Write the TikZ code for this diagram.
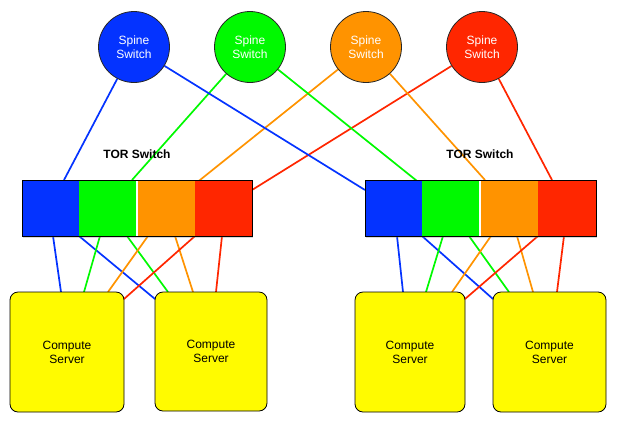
\documentclass[tikz,border=0pt]{standalone}
\usepackage{fontspec}
\setmainfont{Liberation Sans}
\usetikzlibrary{backgrounds,shadows}
\definecolor{cblue}{HTML}{0433FF}
\definecolor{cgreen}{HTML}{00F900}
\definecolor{corange}{HTML}{FF9300}
\definecolor{cred}{HTML}{FF2600}
\definecolor{cyellow}{HTML}{FFFB00}
\begin{document}
\begin{tikzpicture}[x=1pt,y=-1pt,
  spine/.style={circle,minimum size=71pt,inner sep=0pt,draw=black!85,line width=0.8pt,text=white,align=center,font=\fontsize{12}{14}\selectfont},
  seg/.style={rectangle,anchor=north west,minimum height=56pt,inner sep=0pt,outer sep=0pt,draw=none},
  torbox/.style={rectangle,minimum width=230pt,minimum height=56pt,inner sep=0pt,outer sep=0pt,fill=white,drop shadow={opacity=0.3,shadow xshift=1pt,shadow yshift=-1.5pt}},
  server/.style={rectangle,rounded corners=8pt,fill=cyellow,draw=black,line width=0.8pt,align=center,font=\fontsize{12}{14}\selectfont,inner sep=0pt,outer sep=0pt},
  torlabel/.style={font=\bfseries\fontsize{12}{14}\selectfont},
  link/.style={line width=1.7pt}]
\useasboundingbox (0,0) rectangle (618,424);

% spine switches
\node[spine,fill=cblue] (sp1) at (134,47) {Spine\\Switch};
\node[spine,fill=cgreen] (sp2) at (250,47) {Spine\\Switch};
\node[spine,fill=corange] (sp3) at (366,47) {Spine\\Switch};
\node[spine,fill=cred] (sp4) at (482,47) {Spine\\Switch};

% TOR labels
\node[torlabel] (ltl) at (137,154) {TOR Switch};
\node[torlabel] (rtl) at (480,154) {TOR Switch};

% left TOR
\node[torbox] (ltor) at (137,208) {};
\node[seg,fill=cblue,minimum width=57pt] (L1) at (22,180) {};
\node[seg,fill=cgreen,minimum width=57pt] (L2) at (79,180) {};
\node[seg,fill=corange,minimum width=57pt] (L3) at (138,180) {};
\node[seg,fill=cred,minimum width=57pt] (L4) at (195,180) {};
\draw[line width=0.8pt] (ltor.north west) rectangle (ltor.south east);

% right TOR
\node[torbox,minimum width=231pt] (rtor) at (480.5,208) {};
\node[seg,fill=cblue,minimum width=57pt] (R1) at (365,180) {};
\node[seg,fill=cgreen,minimum width=57pt] (R2) at (422,180) {};
\node[seg,fill=corange,minimum width=57pt] (R3) at (481,180) {};
\node[seg,fill=cred,minimum width=58pt] (R4) at (538,180) {};
\draw[line width=0.8pt] (rtor.north west) rectangle (rtor.south east);

% servers
\node[server,minimum width=114pt,minimum height=120pt] (S1) at (67,352) {Compute\\Server};
\node[server,minimum width=112pt,minimum height=119pt] (S2) at (211,351.5) {Compute\\Server};
\node[server,minimum width=110pt,minimum height=120pt] (S3) at (410,352) {Compute\\Server};
\node[server,minimum width=113pt,minimum height=120pt] (S4) at (549.5,352) {Compute\\Server};

\begin{scope}[on background layer]
% spine to TOR
\draw[link,cblue] (sp1) -- ([xshift=-15pt]L1.north east);
\draw[link,cgreen] (sp2) -- ([xshift=-4pt]L2.north east);
\draw[link,corange] (sp3) -- ([yshift=-4pt]L3.north east);
\draw[link,cred] (sp4) -- ([yshift=-10pt]L4.north east);
\draw[link,cblue] (sp1) -- ([yshift=-10pt]R1.north west);
\draw[link,cgreen] (sp2) -- ([yshift=-5pt]R2.north west);
\draw[link,corange] (sp3) -- ([xshift=4pt]R3.north west);
\draw[link,cred] (sp4) -- ([xshift=14pt]R4.north west);
% left TOR to servers
\draw[link,cblue] ([xshift=-26pt]L1.south east) -- ([xshift=51pt]S1.north west);
\draw[link,cblue] (L1.south east) -- ([yshift=-7pt]S2.north west);
\draw[link,cgreen] ([xshift=-36pt]L2.south east) -- ([xshift=74pt]S1.north west);
\draw[link,cgreen] ([xshift=-9pt]L2.south east) -- ([xshift=13pt]S2.north west);
\draw[link,corange] ([xshift=10pt]L3.south west) -- ([xshift=-16pt]S1.north east);
\draw[link,corange] ([xshift=37pt]L3.south west) -- ([xshift=38pt]S2.north west);
\draw[link,cred] (L4.south west) -- ([yshift=-7pt]S1.north east);
\draw[link,cred] ([xshift=27pt]L4.south west) -- ([xshift=-51pt]S2.north east);
% right TOR to servers
\draw[link,cblue] ([xshift=-25pt]R1.south east) -- ([xshift=48pt]S3.north west);
\draw[link,cblue] (R1.south east) -- ([yshift=-7pt]S4.north west);
\draw[link,cgreen] ([xshift=-36pt]R2.south east) -- ([xshift=71pt]S3.north west);
\draw[link,cgreen] ([xshift=-10pt]R2.south east) -- ([xshift=16pt]S4.north west);
\draw[link,corange] ([xshift=10pt]R3.south west) -- ([xshift=-13pt]S3.north east);
\draw[link,corange] ([xshift=36pt]R3.south west) -- ([xshift=40pt]S4.north west);
\draw[link,cred] (R4.south west) -- ([yshift=-7pt]S3.north east);
\draw[link,cred] ([xshift=26pt]R4.south west) -- ([xshift=-49pt]S4.north east);
\end{scope}
\end{tikzpicture}
\end{document}
